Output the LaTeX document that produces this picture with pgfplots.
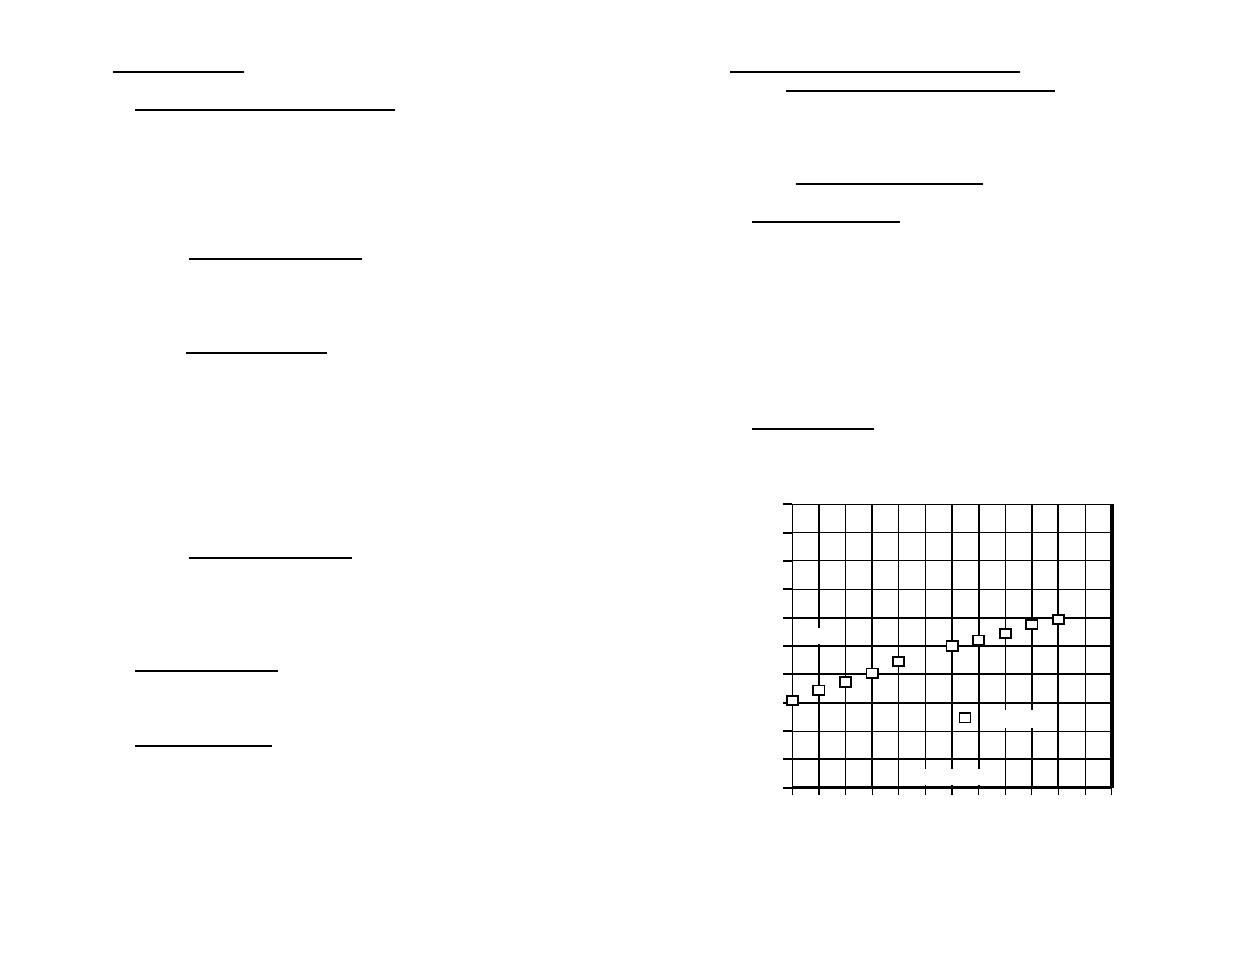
\documentclass[border=0pt]{standalone}
\usepackage{pgfplots}
\pgfplotsset{compat=1.18}
\begin{document}
\begin{tikzpicture}
\useasboundingbox (0,0) rectangle (617.5pt,477pt);
% underlines of the worksheet (pixel coordinates of the reference)
\begin{scope}[x=0.5pt,y=-0.5pt,shift={(0,477pt)},line width=1pt]
\draw (112.7,72.3) -- (244,72.3);
\draw (135,110.3) -- (395,110.3);
\draw (189,259.3) -- (361.7,259.3);
\draw (186,353.3) -- (326.7,353.3);
\draw (189,558.3) -- (351.7,558.3);
\draw (135,671.3) -- (277.7,671.3);
\draw (135,746.3) -- (271.7,746.3);
\draw (730,72) -- (1020,72);
\draw (786,91) -- (1055,91);
\draw (796,183.7) -- (983.3,183.7);
\draw (751.7,222.3) -- (900,222.3);
\draw (752,428.7) -- (874,428.7);
\end{scope}
\begin{axis}[
  at={(396.15pt,83.15pt)}, anchor=south west,
  scale only axis, width=159.7pt, height=141.7pt,
  xmin=0, xmax=12, ymin=0, ymax=10,
  clip=false,
  xtick={0,...,12}, ytick={0,...,10},
  xticklabels={}, yticklabels={},
  tick align=outside, xtick pos=bottom, ytick pos=left,
  major tick length=4.5pt,
  xtick style={black, line width=0.6pt, /pgfplots/major tick length=3.5pt},
  ytick style={black, line width=1pt},
  axis line style={black, line width=0.5pt},
  grid=major,
  major grid style={black, line width=0.5pt},
  extra x ticks={1,3,6,7,9,10},
  extra y ticks={1,3,4,5,6},
  extra x tick labels={}, extra y tick labels={},
  extra tick style={grid=major, major grid style={black, line width=1pt}},
]
\fill[white] (axis cs:0.3,5.06) rectangle (axis cs:1.7,5.64);
\fill[white] (axis cs:7.3,2.10) rectangle (axis cs:9.4,2.74);
\fill[white] (axis cs:4.6,0.08) rectangle (axis cs:7.4,0.67);
\draw[black, line width=1.8pt] (axis cs:12,0) -- (axis cs:12,10);
\draw[black, line width=1.3pt] (axis cs:0,0) -- (axis cs:12,0);
\addplot[only marks, mark=square*, mark size=2.8pt,
  mark options={fill=white, draw=black, line width=0.9pt, yscale=0.83}]
  coordinates {(0,3.07) (1,3.44) (2,3.73) (3,4.04) (4,4.46)
               (6,5.00) (7,5.21) (8,5.45) (9,5.75) (10,5.94)};
\addplot[only marks, mark=square*, mark size=2.6pt,
  mark options={fill=white, draw=black, line width=0.6pt, yscale=0.9}]
  coordinates {(6.49,2.47)};
\end{axis}
\end{tikzpicture}
\end{document}
